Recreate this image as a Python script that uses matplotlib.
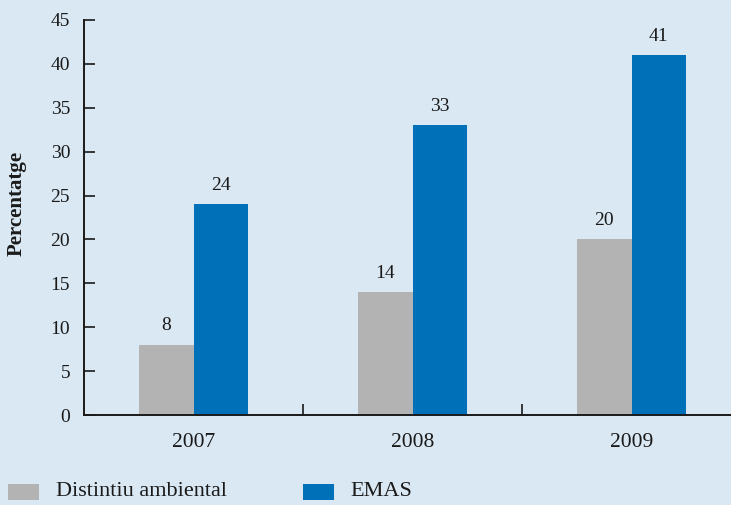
"""Certification share by year (bar chart)."""

import matplotlib
matplotlib.use("Agg")
import matplotlib.pyplot as plt
import numpy as np
from matplotlib.patches import Rectangle

years = ["2007", "2008", "2009"]
distintiu = [8, 14, 20]
emas = [24, 33, 41]
series_names = ["Distintiu ambiental", "EMAS"]
y_ticks = [0, 5, 10, 15, 20, 25, 30, 35, 40, 45]

BG = "#d9e8f3"
GREY = "#b3b3b3"
BLUE = "#0070b8"
INK = "#1a1a1a"

plt.rcParams["font.family"] = ["Liberation Serif", "DejaVu Serif"]

fig = plt.figure(figsize=(7.31, 5.05), dpi=100, facecolor=BG)
W, H = 731, 505
ax = fig.add_axes([84 / W, 90 / H, 657 / W, 395 / H], facecolor=BG)

x = np.arange(len(years))
bw = 0.25
ax.bar(x - bw / 2, distintiu, width=bw, color=GREY, edgecolor="none", zorder=2)
ax.bar(x + bw / 2, emas, width=bw, color=BLUE, edgecolor="none", zorder=2)

for xi, v in zip(x - bw / 2, distintiu):
    ax.text(xi, v + 1.2, str(v), ha="center", va="bottom", fontsize=14, color=INK)
for xi, v in zip(x + bw / 2, emas):
    ax.text(xi, v + 1.2, str(v), ha="center", va="bottom", fontsize=14, color=INK)

ax.set_xlim(-0.5, 2.5)
ax.set_ylim(0, 45)
ax.set_yticks(y_ticks)
ax.set_yticklabels([str(t) for t in y_ticks], fontsize=14, color=INK)
ax.tick_params(axis="y", direction="in", length=8, width=1.2, pad=10, color=INK)

# category boundary ticks on the x axis, labels at the centres
ax.set_xticks([0.5, 1.5])
ax.set_xticklabels([])
ax.tick_params(axis="x", direction="in", length=8, width=1.2, color=INK)
for xi, yr in zip(x, years):
    ax.text(xi, -2.0, yr, ha="center", va="top", fontsize=15.5, color=INK)

for side in ("top", "right"):
    ax.spines[side].set_visible(False)
for side in ("left", "bottom"):
    ax.spines[side].set_linewidth(1.4)
    ax.spines[side].set_color(INK)

fig.text(17 / W, 1 - 203 / H, "Percentatge", rotation=90, ha="center", va="center",
         fontsize=15, fontweight="bold", color=INK)

# legend along the bottom
for px, col, name, tx in [(8, GREY, series_names[0], 56), (303, BLUE, series_names[1], 350)]:
    fig.patches.append(Rectangle((px / W, 1 - 500 / H), 31 / W, 16 / H,
                                 transform=fig.transFigure, facecolor=col,
                                 edgecolor="none"))
    fig.text(tx / W, 1 - 492 / H, name, ha="left", va="center", fontsize=16, color=INK)

fig.savefig("out.png", dpi=100, facecolor=BG)
